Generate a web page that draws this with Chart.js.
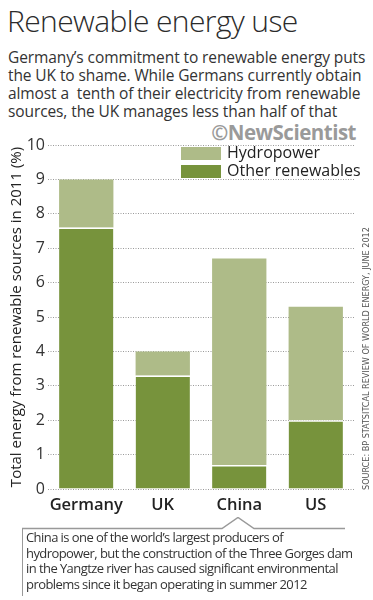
<!DOCTYPE html>
<html>
<head>
<meta charset="utf-8">
<script src="https://cdn.jsdelivr.net/npm/chart.js@4/dist/chart.umd.min.js"></script>
<style>
    html, body { margin: 0; padding: 0; background: #fff; }
    body { width: 373px; height: 600px; position: relative; overflow: hidden; font-family: "Open Sans", sans-serif; color: #333; }
    #title { position: absolute; left: 7px; top: 0px; font-size: 30px; font-weight: 300; letter-spacing: -0.6px; color: #2b2b2b; white-space: nowrap; }
    #intro { position: absolute; left: 8px; top: 48px; font-size: 15.5px; line-height: 18px; letter-spacing: -0.1px; white-space: nowrap; }
    #brand { position: absolute; right: 17px; top: 118px; font-size: 20.5px; font-weight: 700; color: #9a9a9a; letter-spacing: -0.5px; }
    #chart { position: absolute; left: 0; top: 0; }
    #source { position: absolute; left: 366px; top: 490px; transform-origin: 0 0; transform: rotate(-90deg) translateY(-50%); font-family: "Liberation Sans Narrow", "DejaVu Sans Condensed", sans-serif; font-size: 9px; color: #555; white-space: nowrap; }
    #note { position: absolute; left: 22px; top: 528px; width: 322px; height: 68px; border-left: 1.5px solid #999; }
    #note svg { position: absolute; left: -1.5px; top: -11px; }
    #note p { margin: 0; padding: 2px 0 0 3px; font-size: 13px; line-height: 15.7px; letter-spacing: -0.57px; color: #333; white-space: nowrap; }
</style>
</head>
<body>
<div id="title">Renewable energy use</div>
<div id="intro">Germany’s commitment to renewable energy puts<br>the UK to shame. While Germans currently obtain<br>almost a&nbsp; tenth of their electricity from renewable<br>sources, the UK manages less than half of that</div>
<div id="brand">©NewScientist</div>
<canvas id="chart" width="373" height="600"></canvas>
<div id="source">SOURCE: BP STATSITCAL REVIEW OF WORLD ENERGY, JUNE 2012</div>
<div id="note">
    <svg width="324" height="13"><polyline points="0,11.5 200,11.5 216,0.5 232,11.5 323,11.5" fill="none" stroke="#999" stroke-width="1.5"/></svg>
    <p>China is one of the world’s largest producers of<br>hydropower, but the construction of the Three Gorges dam<br>in the Yangtze river has caused significant environmental<br>problems since it began operating in summer 2012</p>
</div>
<script>
const countries = ["Germany", "UK", "China", "US"];
const otherRenewables = [7.6, 3.3, 0.7, 2.0];
const hydropower = [1.4, 0.7, 6.0, 3.3];
const yTicks = [0, 1, 2, 3, 4, 5, 6, 7, 8, 9, 10];

const DARK_GREEN = "#77933c";
const LIGHT_GREEN = "#aebb88";

// legend drawn by hand in the top right corner of the plot
const cornerLegend = {
    id: "cornerLegend",
    afterDraw(chart) {
        const ctx = chart.ctx;
        const items = chart.data.datasets.slice().reverse();
        ctx.save();
        ctx.font = "16px 'Open Sans', sans-serif";
        ctx.textBaseline = "middle";
        items.forEach((ds, i) => {
            const y = 147 + i * 18;
            ctx.fillStyle = ds.backgroundColor;
            ctx.fillRect(181, y, 40, 13);
            ctx.fillStyle = "#222";
            ctx.fillText(ds.label, 227, y + 6.5);
        });
        ctx.restore();
    },
};

const getChartOptions = () => {
    return {
        responsive: false,
        animation: false,
        layout: {
            padding: { top: 145, bottom: 76, left: 0, right: 19 },
        },
        plugins: {
            legend: { display: false },
            tooltip: { enabled: false },
        },
        scales: {
            x: {
                stacked: true,
                grid: { display: false, drawTicks: false },
                border: { display: false },
                ticks: {
                    padding: 6,
                    maxRotation: 0,
                    autoSkip: false,
                    color: "#222",
                    font: { family: "'Open Sans', sans-serif", size: 16.5, weight: "600" },
                },
                afterFit: (scale) => { scale.height = 35; },
            },
            y: {
                stacked: true,
                min: 0,
                max: 10,
                afterBuildTicks: (scale) => { scale.ticks = yTicks.map((v) => ({ value: v })); },
                grid: { color: "#9a9a9a", lineWidth: 1, drawTicks: false },
                border: { display: false, dash: [1, 1.5] },
                ticks: {
                    padding: 3,
                    color: "#333",
                    font: { family: "'Open Sans', sans-serif", size: 16 },
                },
                title: {
                    display: true,
                    text: "Total energy from renewable sources in 2011 (%)",
                    color: "#222",
                    padding: { top: 8, bottom: 0 },
                    font: { family: "'Open Sans', sans-serif", size: 15 },
                },
                afterFit: (scale) => { scale.width = 48; },
            },
        },
    };
};

const drawRenewablesChart = () => {
    const element = document.getElementById("chart");
    const data = {
        labels: countries,
        datasets: [
            {
                label: "Other renewables",
                data: otherRenewables,
                backgroundColor: DARK_GREEN,
                borderColor: "#fff",
                borderWidth: { top: 1.5, left: 0, right: 0, bottom: 0 },
                borderSkipped: false,
            },
            {
                label: "Hydropower",
                data: hydropower,
                backgroundColor: LIGHT_GREEN,
                borderWidth: 0,
            },
        ],
    };
    data.datasets.forEach((ds) => {
        ds.barPercentage = 0.71;
        ds.categoryPercentage = 1;
    });

    return new Chart(element, {
        type: "bar",
        data: data,
        options: getChartOptions(),
        plugins: [cornerLegend],
    });
};

drawRenewablesChart();
</script>
</body>
</html>
